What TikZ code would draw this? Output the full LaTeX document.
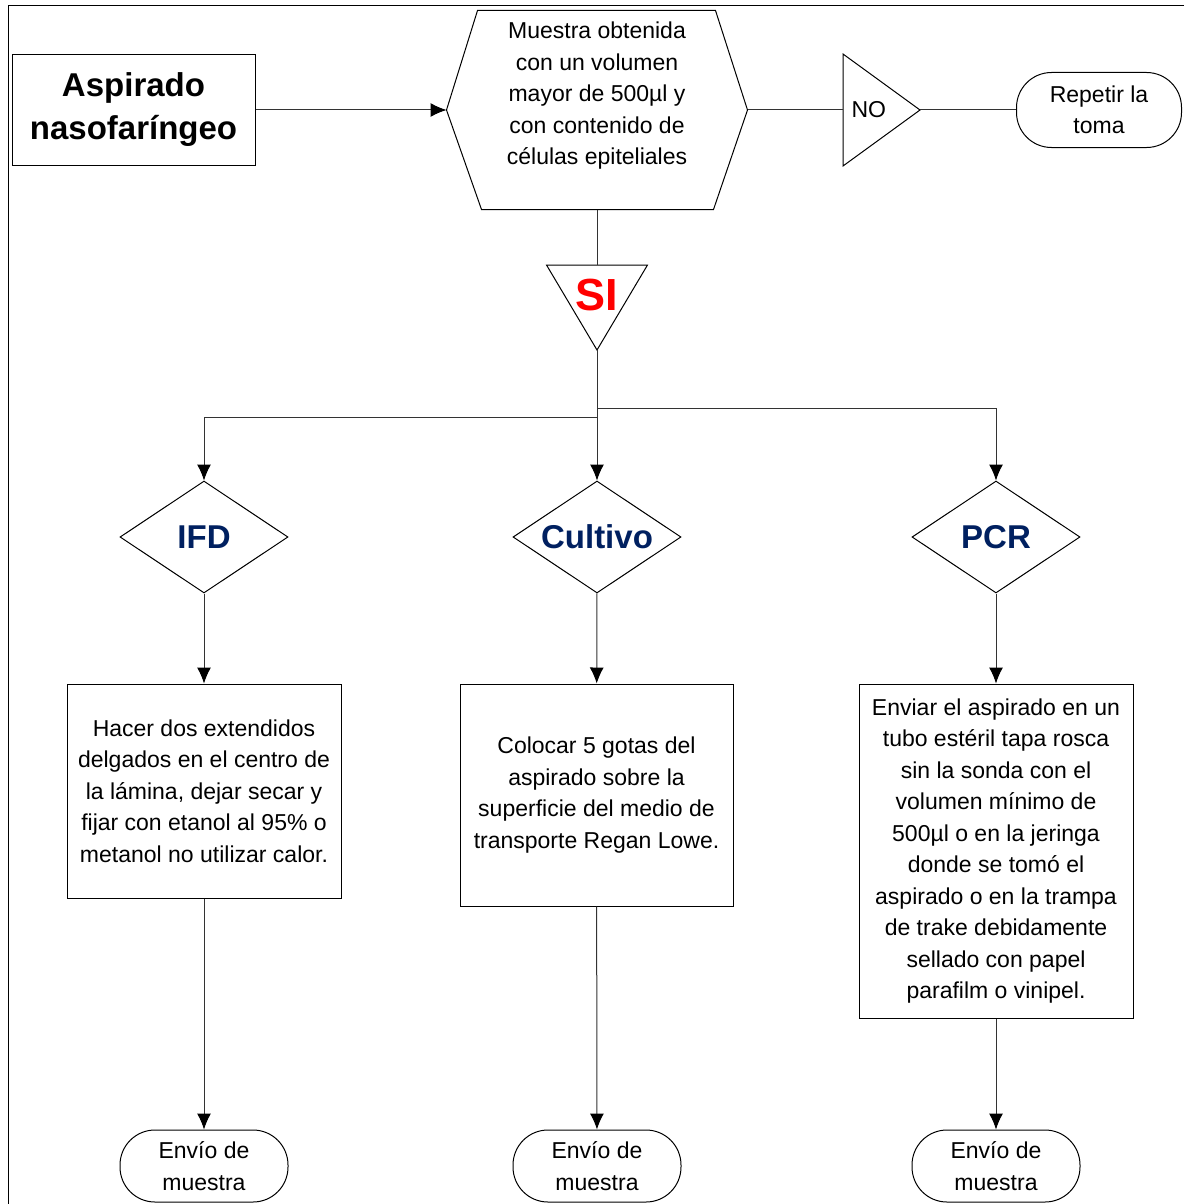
\documentclass[tikz,border=0pt]{standalone}
\usepackage{fontspec}
\setmainfont{Liberation Sans}
\usepackage{xcolor}
\usepackage{tikz}
\usetikzlibrary{arrows.meta,calc,shapes.geometric}

\definecolor{navytext}{HTML}{002060}

\begin{document}
\begin{tikzpicture}[x=1pt, y=-1pt, line width=1pt,
    >={Latex[length=16pt,width=14pt,color=black]},
    txt/.style={font=\fontsize{23}{31.5}\selectfont, align=center},
    box/.style={draw, txt, inner sep=0pt},
    term/.style={draw, txt, inner sep=0pt, minimum width=168pt, minimum height=72pt, rounded corners=35pt},
    choice/.style={draw, diamond, shape aspect=1.5, inner sep=0pt, minimum width=168pt, minimum height=112pt,
        text=navytext, font=\fontsize{33}{40}\selectfont\bfseries},
    link/.style={draw=black!80}]
    \useasboundingbox (0,0) rectangle (1184,1204);
    \draw (1184,6) -- (8,6) -- (8,1204);

    \node[draw, inner sep=0pt, minimum width=243pt, minimum height=111pt, align=center,
        font=\fontsize{33}{43}\selectfont\bfseries] (asp) at (133.5,110) {Aspirado\\nasofaríngeo};
    \node[txt, inner sep=0pt, minimum width=300pt, minimum height=198pt] (hex) at (597,110)
        {Muestra obtenida\\con un volumen\\mayor de 500µl y\\con contenido de\\células epiteliales\\[-8pt]\strut};
    \draw (hex.west) -- ($(hex.north west)+(31,0)$) -- ($(hex.north east)+(-32,0)$) -- (hex.east)
        -- ($(hex.south east)+(-34,0)$) -- ($(hex.south west)+(35,0)$) -- cycle;
    \node[txt, text width=60pt, align=left, inner xsep=8pt, inner ysep=0pt, minimum height=111pt,
        anchor=west] (no) at (843,110) {NO};
    \draw (no.north west) -- (no.east) -- (no.south west) -- cycle;
    \node[term, minimum width=165pt, minimum height=75pt] (rep) at (1099,110) {Repetir la\\toma};

    \node[inner sep=0pt, minimum width=100pt, text height=45pt, text depth=39pt, anchor=north,
        text=red, font=\fontsize{45}{50}\selectfont\bfseries] (si) at (597,265) {SI};
    \draw (si.north west) -- (si.north east) -- (si.south) -- cycle;

    \node[choice] (ifd) at (204,537) {IFD};
    \node[choice] (cul) at (597,537) {Cultivo};
    \node[choice] (pcr) at (996,537) {PCR};

    \node[box, minimum width=274pt, minimum height=214pt] (ifdbox) at (204,791)
        {Hacer dos extendidos\\delgados en el centro de\\la lámina, dejar secar y\\fijar con etanol al 95\% o\\metanol no utilizar calor.};
    \node[box, minimum width=273pt, minimum height=222pt] (culbox) at (596.5,795)
        {Colocar 5 gotas del\\aspirado sobre la\\superficie del medio de\\transporte Regan Lowe.};
    \node[box, minimum width=274pt, minimum height=334pt] (pcrbox) at (996,851)
        {Enviar el aspirado en un\\tubo estéril tapa rosca\\sin la sonda con el\\volumen mínimo de\\500µl o en la jeringa\\donde se tomó el\\aspirado o en la trampa\\de trake debidamente\\sellado con papel\\parafilm o vinipel.};

    \node[term] (ifdend) at (204,1166) {Envío de\\muestra};
    \node[term] (culend) at (597,1166) {Envío de\\muestra};
    \node[term] (pcrend) at (996,1166) {Envío de\\muestra};

    \draw[->,link] (asp) to (hex.west);
    \draw[link] (hex.east) to (no.west);
    \draw[link] (no.east) to (rep);
    \draw[link] (hex.south) to (si.north);
    \draw[->,link] (si.south) -- ++(0,67) -| (ifd.north);
    \draw[->,link] (si.south) -- (cul.north);
    \draw[->,link] (si.south) -- ++(0,58) -| (pcr.north);

    \draw[->,link] (ifd) to (ifdbox);
    \draw[->,link] (cul) to (culbox);
    \draw[->,link] (pcr) to (pcrbox);
    \draw[->,link] (ifdbox) to (ifdend);
    \draw[->,link] (culbox) to (culend);
    \draw[->,link] (pcrbox) to (pcrend);
  \end{tikzpicture}
\end{document}
